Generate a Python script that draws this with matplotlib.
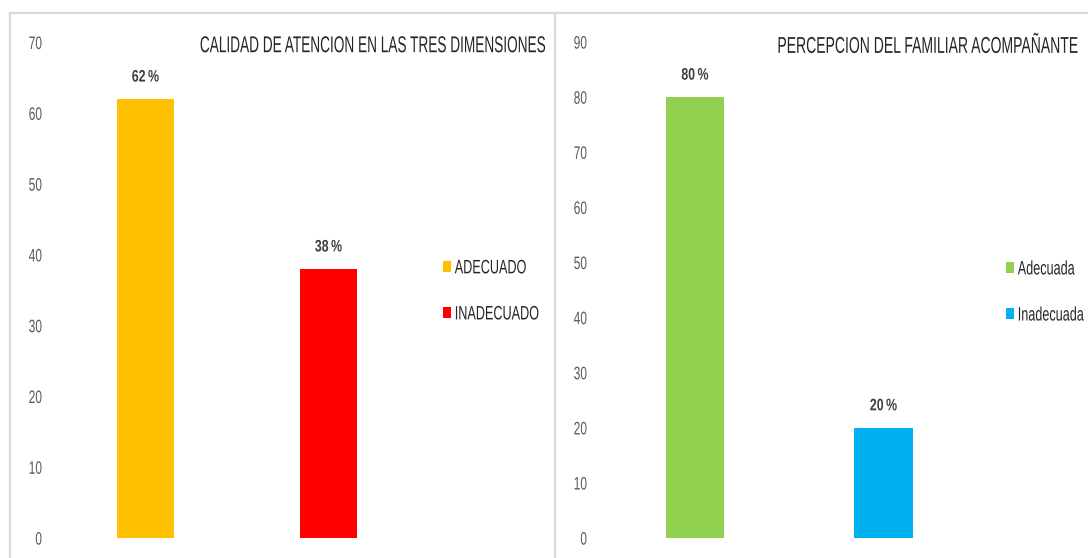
import matplotlib
matplotlib.use("Agg")
import matplotlib.pyplot as plt
from matplotlib.lines import Line2D
from matplotlib.patheffects import AbstractPathEffect
from matplotlib.transforms import Affine2D

# ---- data ----
left_title = "CALIDAD DE ATENCION EN LAS TRES DIMENSIONES"
left_categories = ["ADECUADO", "INADECUADO"]
left_values = [62, 38]
left_colors = ["#FFC000", "#FF0000"]
left_yticks = [0, 10, 20, 30, 40, 50, 60, 70]

right_title = "PERCEPCION DEL FAMILIAR ACOMPAÑANTE"
right_categories = ["Adecuada", "Inadecuada"]
right_values = [80, 20]
right_colors = ["#92D050", "#00B0F0"]
right_yticks = [0, 10, 20, 30, 40, 50, 60, 70, 80, 90]

plt.rcParams["font.family"] = ["Liberation Sans", "DejaVu Sans"]


class Tall(AbstractPathEffect):
    """Stretch text vertically about its centre, giving the tall narrow look
    of the reference's condensed face while keeping the true text width."""

    def __init__(self, sy):
        super().__init__()
        self.sy = sy

    def draw_path(self, renderer, gc, tpath, affine, rgbFace=None):
        ext = tpath.get_extents()
        cy = 0.5 * (ext.y0 + ext.y1)
        t = Affine2D().translate(0, -cy).scale(1, self.sy).translate(0, cy) + affine
        renderer.draw_path(gc, tpath, t, rgbFace)


W, H = 1088, 558
fig = plt.figure(figsize=(W / 100, H / 100), dpi=100)


def px_axes(x0, y_top, x1, y_bottom):
    return fig.add_axes([x0 / W, 1 - y_bottom / H, (x1 - x0) / W, (y_bottom - y_top) / H])


def panel(ax, cats, vals, cols, ticks, xlim, width, title, title_x, title_fs, leg_anchor):
    x = list(range(len(cats)))
    bars = ax.bar(x, vals, width=width, color=cols)
    for b, c in zip(bars, cats):
        b.set_label(c)
    ax.set_xlim(*xlim)
    ax.set_ylim(0, ticks[-1])
    ax.set_yticks(ticks)
    ax.set_xticks([])
    ax.tick_params(axis="y", length=0, pad=13, labelsize=8.6, labelcolor="#595959")
    for lab in ax.get_yticklabels():
        lab.set_path_effects([Tall(1.51)])
    for s in ax.spines.values():
        s.set_visible(False)
    texts = ax.bar_label(bars, labels=[f"{v}\u2009%" for v in vals], padding=11.5,
                         fontsize=8.9, fontweight="bold", color="#404040")
    for t in texts:
        t.set_path_effects([Tall(1.35)])
    fig.text(title_x / W, 1 - 45 / H, title, ha="right", va="center",
             fontsize=title_fs, color="#262626",
             path_effects=[Tall(16.5 / title_fs)])
    leg = ax.legend(handles=list(bars), loc="upper left",
                    bbox_to_anchor=(leg_anchor[0] / W, 1 - leg_anchor[1] / H),
                    bbox_transform=fig.transFigure, frameon=False,
                    fontsize=9.1, labelspacing=2.62, handlelength=0.63,
                    handleheight=1.0, handletextpad=0.3, borderpad=0,
                    borderaxespad=0)
    for t in leg.get_texts():
        t.set_color("#262626")
        t.set_path_effects([Tall(1.54)])


axL = px_axes(60, 42.4, 440, 538)
panel(axL, left_categories, left_values, left_colors, left_yticks,
      (-0.467, 1.609), 0.311, left_title, 545, 9.82, (443, 261))

axR = px_axes(605, 42, 1000, 538)
panel(axR, right_categories, right_values, right_colors, right_yticks,
      (-0.477, 1.618), 0.308, right_title, 1078, 10.07, (1006, 262))

# panel borders
bc = "#D9D9D9"


def fline(xs, ys):
    fig.add_artist(Line2D([v / W for v in xs], [1 - v / H for v in ys],
                          transform=fig.transFigure, color=bc, lw=1.6))


fline([10, 1088], [13, 13])
fline([10, 10], [13, 558])
fline([555, 555], [13, 558])

fig.savefig("out.png", dpi=100)
